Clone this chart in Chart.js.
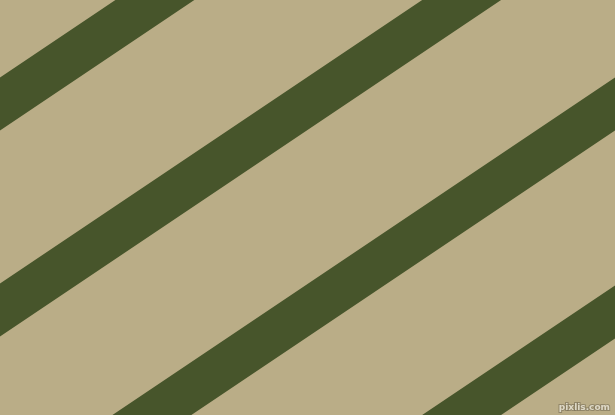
<!DOCTYPE html>
<html>
<head>
<meta charset="utf-8">
<script src="https://cdn.jsdelivr.net/npm/chart.js@4/dist/chart.umd.min.js"></script>
<style>
  html, body { margin: 0; padding: 0; background: #BAAD87; overflow: hidden; }
  #wrap { width: 615px; height: 415px; }
  canvas { display: block; }
</style>
</head>
<body>
<div id="wrap"><canvas id="c" width="615" height="415"></canvas></div>
<script>
// Stripe data: y position of each stripe's centre line at the left (x=0) and right (x=615) edges
const stripeNames = ['Stripe 1', 'Stripe 2', 'Stripe 3', 'Stripe 4'];
const xEnds = [0, 615];
const yLeft = [104, 310, 517, 725];
const yRight = [-309, -103, 104, 312];
const watermark = 'pixlis.com';

const BG = '#BAAD87';
const STRIPE = '#47552B';

const datasets = stripeNames.map((name, i) => ({
  label: name,
  data: [{ x: xEnds[0], y: yLeft[i] }, { x: xEnds[1], y: yRight[i] }],
  showLine: true,
  borderColor: STRIPE,
  backgroundColor: STRIPE,
  borderWidth: 44,
  borderCapStyle: 'square',
  pointRadius: 0,
  pointHoverRadius: 0,
  fill: false,
  tension: 0,
  clip: 0
}));

const watermarkPlugin = {
  id: 'watermark',
  afterDraw(chart) {
    const ctx = chart.ctx;
    ctx.save();
    ctx.font = 'bold 9px "DejaVu Sans", sans-serif';
    ctx.textAlign = 'right';
    ctx.textBaseline = 'alphabetic';
    ctx.lineWidth = 2;
    ctx.strokeStyle = 'rgba(120,110,85,0.6)';
    ctx.strokeText(watermark, 610, 410);
    ctx.fillStyle = 'rgba(235,230,215,0.85)';
    ctx.fillText(watermark, 610, 410);
    ctx.restore();
  }
};

new Chart(document.getElementById('c'), {
  type: 'scatter',
  data: { datasets },
  options: {
    responsive: false,
    animation: false,
    devicePixelRatio: 1,
    layout: { padding: 0 },
    plugins: { legend: { display: false }, tooltip: { enabled: false }, title: { display: false } },
    scales: {
      x: { type: 'linear', min: 0, max: 615, display: false },
      y: { type: 'linear', min: 0, max: 415, reverse: true, display: false }
    }
  },
  plugins: [watermarkPlugin]
});
</script>
</body>
</html>
